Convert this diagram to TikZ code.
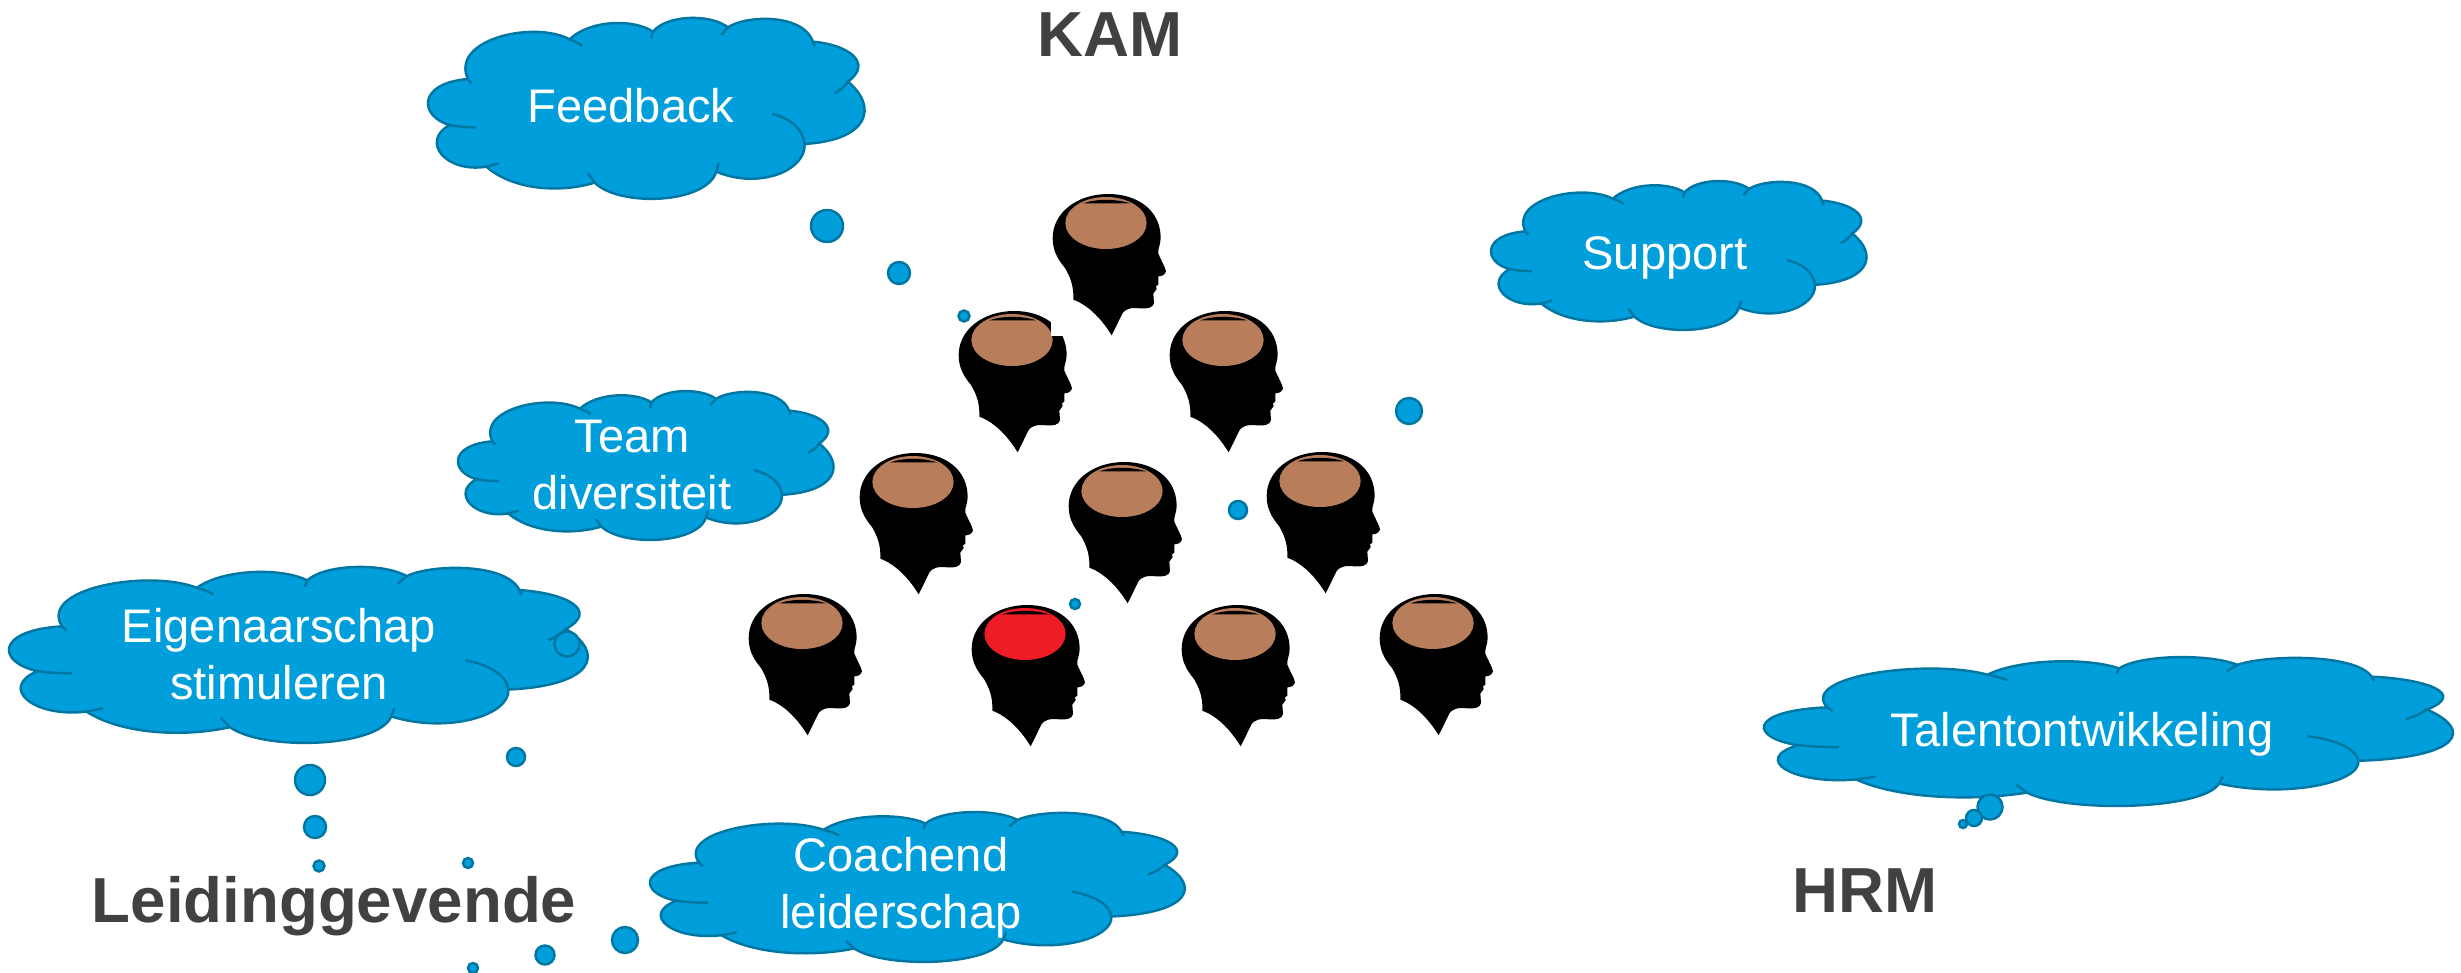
\documentclass[tikz,border=0pt]{standalone}
\usepackage{fontspec}
\setmainfont{Liberation Sans}
\usepackage{tikz}
\definecolor{cloudblue}{HTML}{009FDB}
\definecolor{cloudline}{HTML}{0076A3}
\definecolor{skin}{HTML}{B87D5A}
\definecolor{redbrain}{HTML}{EE1C25}
\definecolor{titlegrey}{HTML}{414042}
\tikzstyle{cloudtext}=[text=white,inner sep=0pt,align=center,font=\fontsize{13.4}{16.2}\selectfont]
\tikzstyle{titletext}=[text=titlegrey,inner sep=0pt,font=\fontsize{18.1}{21}\selectfont\bfseries]
\tikzstyle{bubble}=[circle,fill=cloudblue,draw=cloudline,line width=0.7pt,inner sep=0pt]
\tikzstyle{cloudedge}=[draw=cloudline,line width=0.7pt]
\tikzset{
  pics/cloud/.style={code={
    \path[cloudedge,fill=cloudblue,shift={(-85,-57)}] (205,237)
      .. controls (150,120) and (400,60) .. (510,118)
      .. controls (570,60) and (700,55) .. (760,95)
      .. controls (800,45) and (930,40) .. (985,82)
      .. controls (1040,45) and (1210,40) .. (1240,125)
      .. controls (1350,135) and (1420,190) .. (1345,245)
      .. controls (1435,320) and (1410,420) .. (1215,432)
      .. controls (1220,510) and (1080,570) .. (950,515)
      .. controls (920,612) and (660,622) .. (585,548)
      .. controls (480,580) and (340,570) .. (260,500)
      .. controls (140,520) and (60,425) .. (150,375)
      .. controls (60,350) and (50,250) .. (205,237) -- cycle;
    % inner ticks
    \path[cloudedge,shift={(-85,-57)}] (205,237) -- (215,250)
      (510,118) .. controls (525,123) and (537,130) .. (548,138)
      (760,95) -- (755,115) (985,82) -- (965,105) (1240,125) -- (1245,140)
      (1345,245) .. controls (1335,260) and (1320,272) .. (1305,280)
      (1215,432) .. controls (1210,385) and (1170,355) .. (1118,342)
      (950,515) -- (957,490) (585,548) -- (565,520) (260,500) -- (297,490)
      (150,375) .. controls (175,380) and (200,382) .. (228,382);
  }},
  pics/head/.style={code={
    \path[fill=black,shift={(-468,-160)}] (475,73)
      .. controls (560,73) and (632,120) .. (632,205)
      .. controls (632,225) and (622,240) .. (625,252)
      .. controls (632,270) and (645,290) .. (648,305)
      .. controls (646,315) and (635,320) .. (625,320)
      -- (625,345) -- (618,350) -- (620,358) -- (610,372) -- (612,400)
      .. controls (610,415) and (590,418) .. (570,416)
      .. controls (540,412) and (525,420) .. (518,430) -- (485,497)
      .. controls (450,440) and (410,405) .. (370,390)
      .. controls (372,350) and (360,320) .. (345,295)
      .. controls (320,265) and (308,240) .. (308,205)
      .. controls (308,130) and (380,73) .. (475,73) -- cycle;
    \path[fill=#1] (0,0) ellipse (122 and 78);
    \path[fill=black] (-68,-59) .. controls (-30,-73) and (30,-73) .. (72,-59) -- cycle;
  }}
}
\begin{document}
\begin{tikzpicture}[x=0.01cm,y=-0.01cm]
\useasboundingbox (0,0) rectangle (2461,973);

% heads
\foreach \pos/\name in {{(1106,223)/heada},{(1012,340)/headb},{(1223,340)/headc},{(913,482)/headd},{(1122,491)/heade},{(1320,481)/headf},{(802,623)/headg},{(1235,634)/headi},{(1433,623)/headj}}
  \pic[scale=0.3333] (\name) at \pos {head=skin};
\pic[scale=0.3333] (headh) at (1025,634) {head=redbrain};
\fill[white] (1051,310) rectangle (1075,336);

% clouds
\pic[xscale=0.3333,yscale=0.3333] (cloudfeedback) at (428,19) {cloud};
\pic[xscale=0.2867,yscale=0.2741] (cloudsupport) at (1491,182) {cloud};
\pic[xscale=0.2867,yscale=0.2741] (cloudteam) at (458,392) {cloud};
\pic[xscale=0.4419,yscale=0.3241] (cloudeigen) at (9,568) {cloud};
\pic[xscale=0.4083,yscale=0.2759] (cloudcoach) at (650,813) {cloud};
\pic[xscale=0.5260,yscale=0.2741] (cloudtalent) at (1764,658) {cloud};

% thought bubbles
\foreach \pos/\name/\size in {{(827,226)/ba/32},{(899,273)/bb/22},{(964,316)/bc/11},{(1409,411)/bd/26},{(1238,510)/be/18},{(1075,604)/bf/10},{(567,644)/bg/25},{(516,757)/bh/18},{(310,780)/bi/30},{(315,827)/bj/22},{(319,866)/bk/11},{(468,863)/bl/10},{(625,940)/bm/26},{(545,955)/bn/19},{(473,968)/bo/10},{(1990,807)/bp/25},{(1974,818)/bq/16},{(1963,824)/br/8}}
  \node[bubble,minimum size=\size*0.1mm] (\name) at \pos {};

% labels
\node[cloudtext] (feedback) at (631,106) {Feedback};
\node[cloudtext] (support) at (1665,258) {Support};
\node[cloudtext] (team) at (632,465) {Team\\diversiteit};
\node[cloudtext] (eigen) at (279,654) {Eigenaarschap\\stimuleren};
\node[cloudtext] (coach) at (901,888) {Coachend\\leiderschap};
\node[cloudtext] (talent) at (2082,734) {Talentontwikkeling};

\node[titletext] (kam) at (1110,35) {KAM};
\node[titletext] (leiding) at (334,906) {Leidinggevende};
\node[titletext] (hrm) at (1865,891) {HRM};
\end{tikzpicture}
\end{document}
